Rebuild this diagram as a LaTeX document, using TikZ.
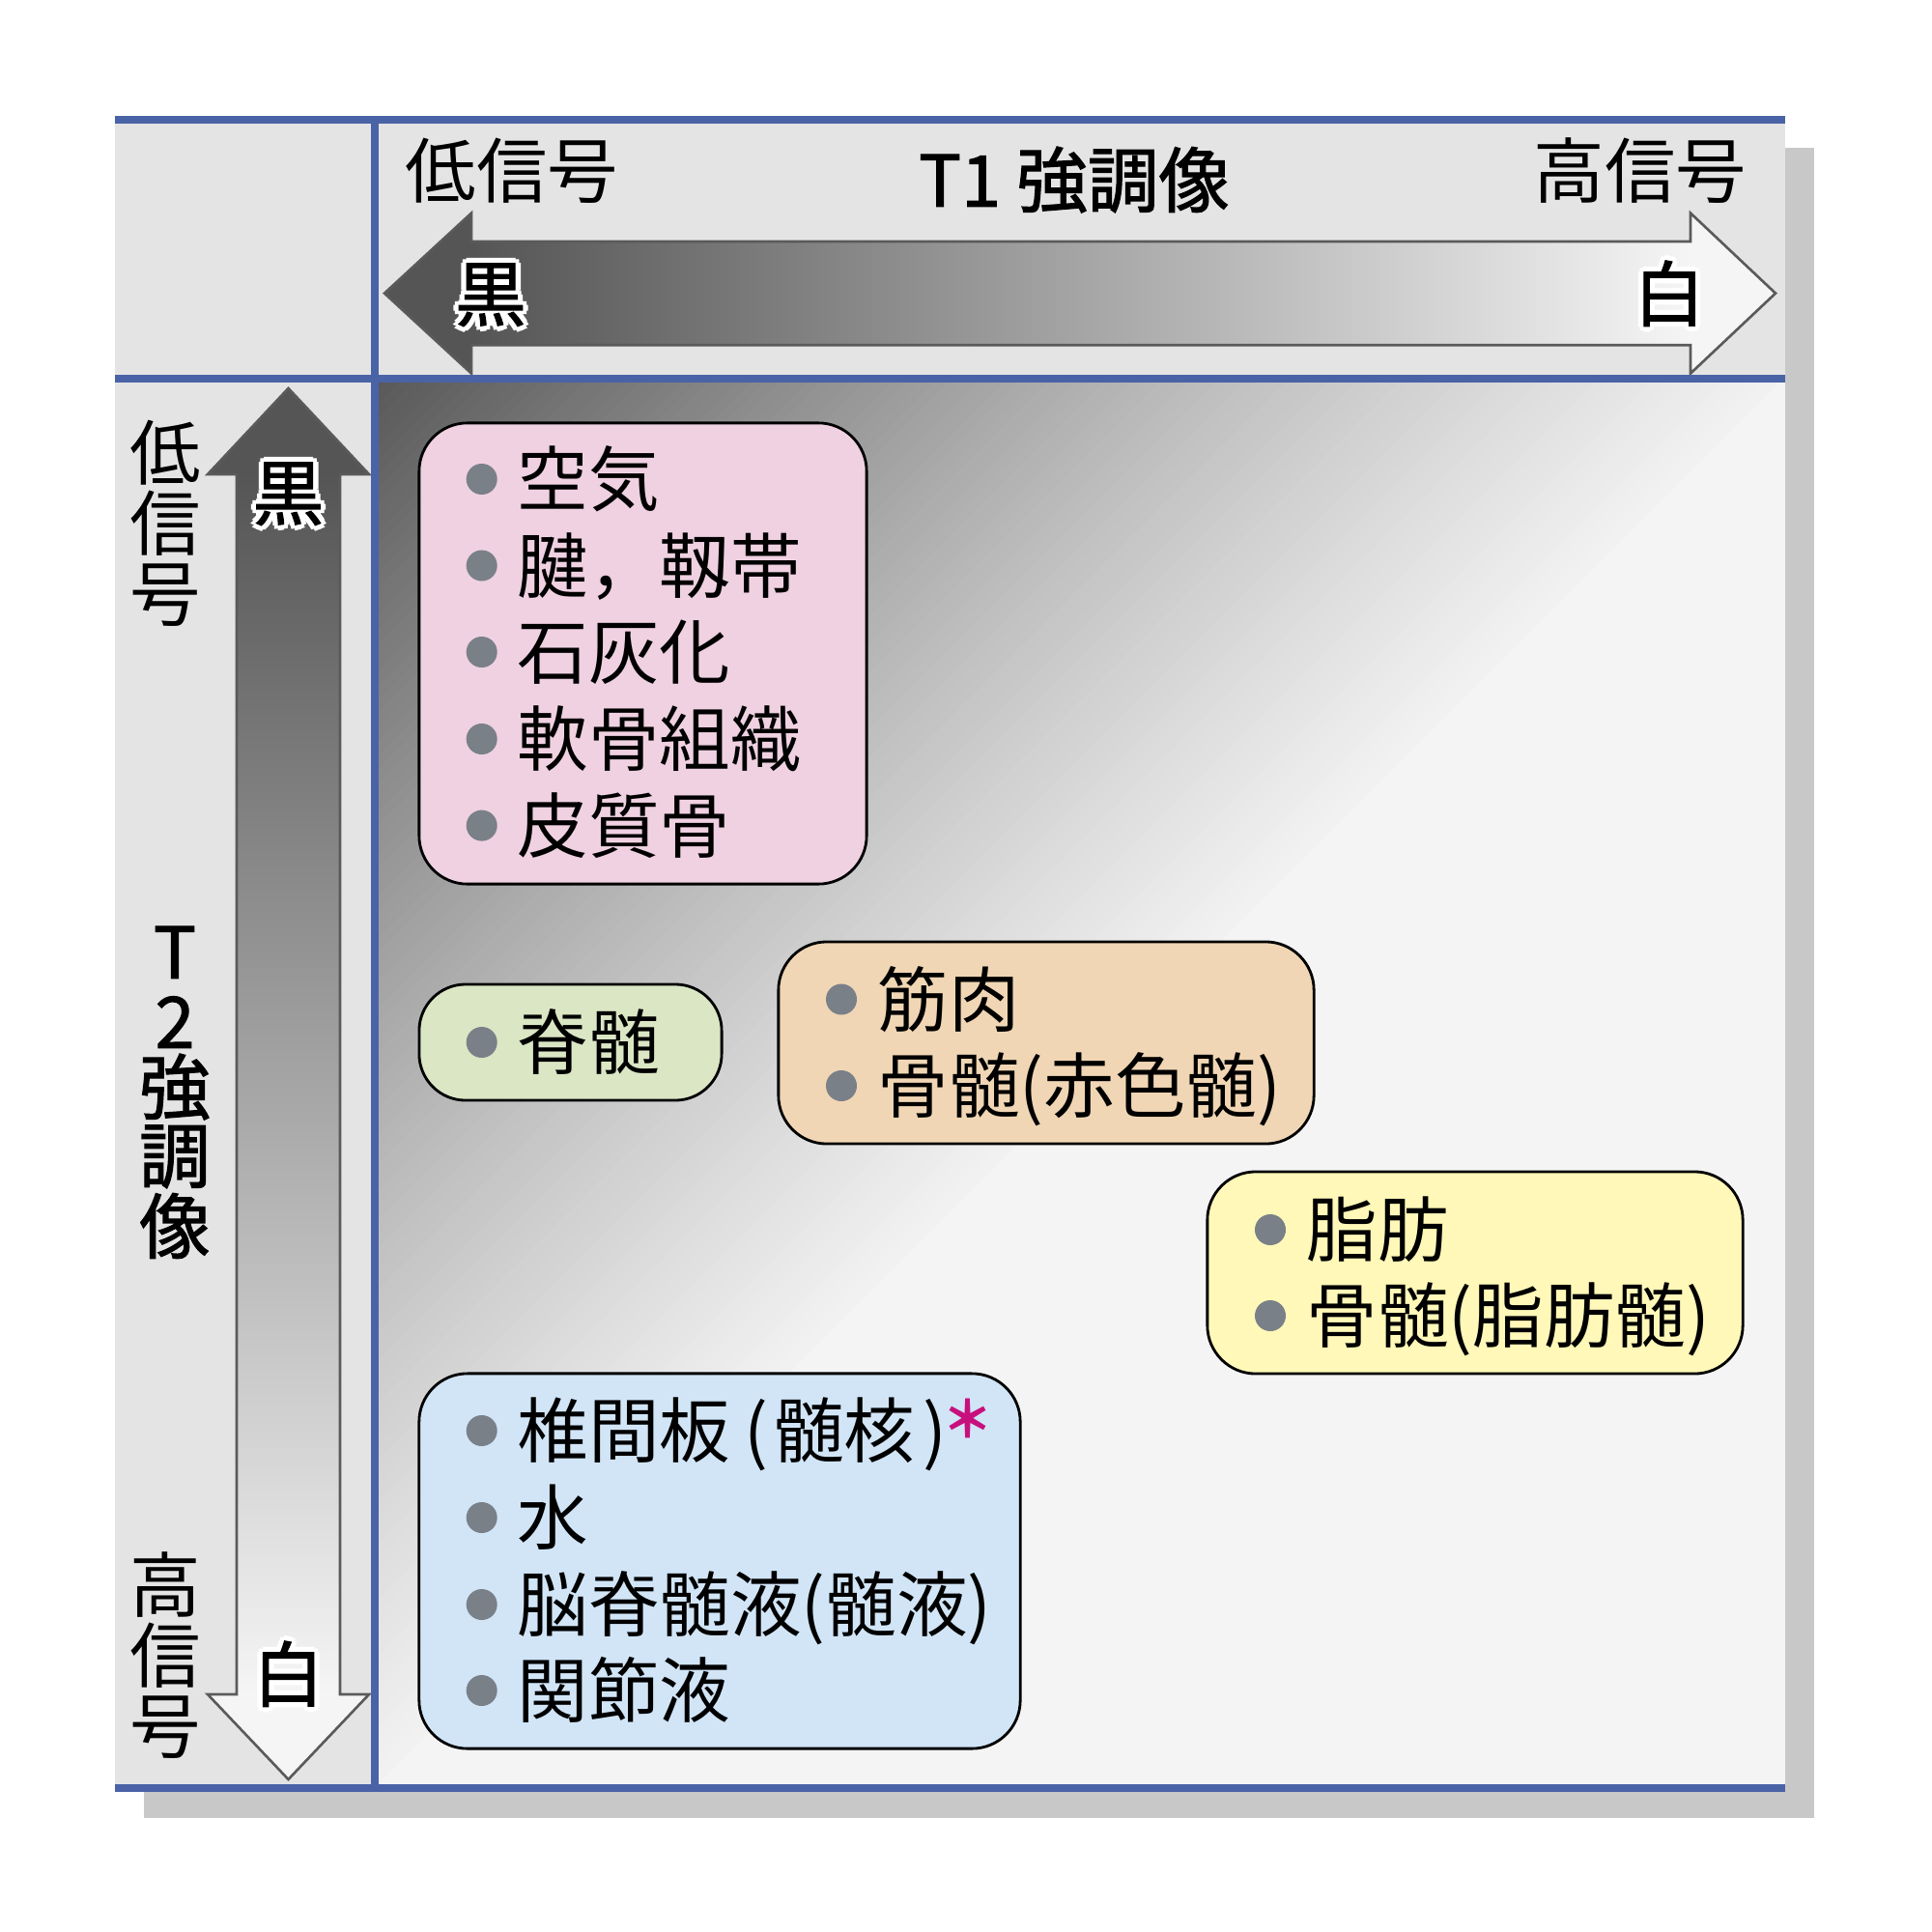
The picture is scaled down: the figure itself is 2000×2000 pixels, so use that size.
\documentclass[tikz,border=0pt]{standalone}
\usepackage{fontspec}
\setmainfont{Noto Sans CJK JP}
\newfontfamily\medfont{Noto Sans CJK JP}[FakeBold=1.6]
\definecolor{frameblue}{RGB}{74,99,167}
\definecolor{shadowgray}{RGB}{200,200,200}
\definecolor{panelgray}{RGB}{228,228,228}
\definecolor{mainlight}{RGB}{244,244,244}
\definecolor{pinkfill}{RGB}{239,209,225}
\definecolor{greenfill}{RGB}{218,230,196}
\definecolor{orangefill}{RGB}{240,214,180}
\definecolor{yellowfill}{RGB}{255,248,184}
\definecolor{bluefill}{RGB}{209,229,247}
\definecolor{bulletgray}{RGB}{122,128,136}
\definecolor{arrowdark}{RGB}{85,85,85}
\definecolor{arrowlight}{RGB}{245,245,245}
\definecolor{arrowline}{RGB}{90,90,90}
\definecolor{starmag}{RGB}{200,16,125}
\newcommand\myhalo[1]{\leavevmode\rlap{\color{white}\foreach \hx/\hy in {1.5/0,1.06/1.06,0/1.5,-1.06/1.06,-1.5/0,-1.06/-1.06,0/-1.5,1.06/-1.06}{\rlap{\kern\hx pt\raise\hy pt\hbox{#1}}}}#1}
\tikzset{
  jt/.style={inner sep=0pt, text height=17.3pt, text depth=1.5pt, font=\fontsize{20.9pt}{24pt}\selectfont},
  jtb/.style={jt, font=\fontsize{20.9pt}{24pt}\selectfont\medfont},
  itembox/.style={draw=black, line width=0.8pt, rounded corners=0.5cm, inner sep=0pt},
  bluerule/.style={frameblue, line width=2.1pt},
  arrowedge/.style={draw=arrowline, line width=0.75pt, line join=miter},
}
\begin{document}
\begin{tikzpicture}[x=0.01cm,y=-0.01cm]
\useasboundingbox (0,0) rectangle (2000,2000);
\fill[white] (0,0) rectangle (2000,2000);
% shadow
\fill[shadowgray] (149,153) rectangle (1878,1882);
% panels
\fill[panelgray] (119,124) rectangle (1848,392);
\fill[panelgray] (119,392) rectangle (388,1851);
% main area gradient
\begin{scope}
  \clip (388,392) rectangle (1848,1851);
  \fill[mainlight] (388,392) rectangle (1848,1851);
  \foreach \i in {0,...,99}{
    \pgfmathsetmacro\sa{14.56*\i}
    \pgfmathsetmacro\sb{14.56*(\i+1)+1.5}
    \pgfmathsetmacro\tt{(\i+0.5)/100}
    \pgfmathsetmacro\gg{(88+154*\tt+10*sin(180*\tt))/255}
    \definecolor{stripc}{gray}{\gg}
    \fill[stripc] (388+\sa,392) -- (388+\sb,392) -- (388,392+\sb) -- (388,392+\sa) -- cycle;
  }
\end{scope}
% horizontal arrow
\shade[left color=arrowdark, right color=arrowlight] (488,250) rectangle (1750,357.2);
\fill[arrowdark] (488,220.6) -- (398,303.6) -- (488,386.6) -- cycle;
\fill[arrowlight] (1750,220.6) -- (1838,303.6) -- (1750,386.6) -- cycle;
\draw[arrowedge] (398,303.6) -- (488,220.6) -- (488,250) -- (1750,250) -- (1750,220.6) -- (1838,303.6) -- (1750,386.6) -- (1750,357.2) -- (488,357.2) -- (488,386.6) -- cycle;
% vertical arrow
\shade[top color=arrowdark, bottom color=arrowlight] (245,491) rectangle (352,1754);
\fill[arrowdark] (215,491) -- (298.5,402) -- (382,491) -- cycle;
\fill[arrowlight] (215,1754) -- (298.5,1842) -- (382,1754) -- cycle;
\draw[arrowedge] (298.5,402) -- (382,491) -- (352,491) -- (352,1754) -- (382,1754) -- (298.5,1842) -- (215,1754) -- (245,1754) -- (245,491) -- (215,491) -- cycle;
% frame lines
\draw[bluerule] (119,124) -- (1848,124);
\draw[bluerule] (119,392) -- (1848,392);
\draw[bluerule] (119,1851) -- (1848,1851);
\draw[bluerule] (388,124) -- (388,1851);
% header texts
\node[jt, anchor=west] (lowT) at (419,176.5) {低信号};
\node[jtb] (titleT) at (1112,186) {T1 強調像};
\node[jt, anchor=east] (highT) at (1809,176.5) {高信号};
\node[jtb] (hkuro) at (508,304) {\myhalo{黒}};
\node[jtb] (hshiro) at (1728,304) {\myhalo{白}};
\node[jtb] (vkuro) at (298.5,510) {\myhalo{黒}};
\node[jtb] (vshiro) at (298.5,1733) {\myhalo{白}};
% left column texts
\node[jt] (lowA) at (171,469) {低};
\node[jt] (lowB) at (171,542) {信};
\node[jt] (lowC) at (171,615) {号};
\node[jtb] (tA) at (181,985) {T};
\node[jtb] (tB) at (181,1057) {2};
\node[jtb] (tC) at (181,1125) {強};
\node[jtb] (tD) at (181,1196) {調};
\node[jtb] (tE) at (181,1269) {像};
\node[jt] (highA) at (171,1641) {高};
\node[jt] (highB) at (171,1714) {信};
\node[jt] (highC) at (171,1787) {号};
% boxes
\node[itembox, fill=pinkfill, minimum width=4.63cm, minimum height=4.77cm] (pinkbox) at (665.5,676.5) {};
\node[itembox, fill=greenfill, minimum width=3.13cm, minimum height=1.2cm, rounded corners=0.48cm] (greenbox) at (590.5,1079) {};
\node[itembox, fill=orangefill, minimum width=5.54cm, minimum height=2.09cm] (orangebox) at (1083,1079.5) {};
\node[itembox, fill=yellowfill, minimum width=5.54cm, minimum height=2.09cm] (yellowbox) at (1527,1317.5) {};
\node[itembox, fill=bluefill, minimum width=6.22cm, minimum height=3.88cm] (bluebox) at (745,1616) {};
% bullets
\foreach \bx/\by in {498.7/496, 498.7/585.5, 498.7/675, 498.7/765, 498.7/854.6, 498.7/1079, 871/1034.5, 871/1124, 1315/1273, 1315/1362, 498.7/1481, 498.7/1571, 498.7/1661, 498.7/1750}
  \fill[bulletgray] (\bx,\by) circle[radius=0.16cm];
% pink items
\node[jt, anchor=west] (pA) at (535,496) {空気};
\node[jt, anchor=west] (pB) at (535,585.5) {腱，靱帯};
\node[jt, anchor=west] (pC) at (535,675) {石灰化};
\node[jt, anchor=west] (pD) at (535,765) {軟骨組織};
\node[jt, anchor=west] (pE) at (535,854.6) {皮質骨};
% green
\node[jt, anchor=west] (gA) at (535,1079) {脊髄};
% orange
\node[jt, anchor=west] (oA) at (908,1034.5) {筋肉};
\node[jt, anchor=west] (oB) at (908,1124) {骨髄(赤色髄)};
% yellow
\node[jt, anchor=west] (yA) at (1352,1273) {脂肪};
\node[jt, anchor=west] (yB) at (1352,1362) {骨髄(脂肪髄)};
% blue
\node[jt, anchor=west] (bA) at (535,1481) {椎間板\kern0.2em(\kern0.06em髄核\kern0.12em)};
\node[inner sep=0pt, font=\fontsize{15pt}{18pt}\selectfont\bfseries, text=starmag] (star) at (1002,1468) {＊};
\node[jt, anchor=west] (bB) at (535,1571) {水};
\node[jt, anchor=west] (bC) at (535,1661) {脳脊髄液(髄液)};
\node[jt, anchor=west] (bD) at (535,1750) {関節液};
\end{tikzpicture}
\end{document}
